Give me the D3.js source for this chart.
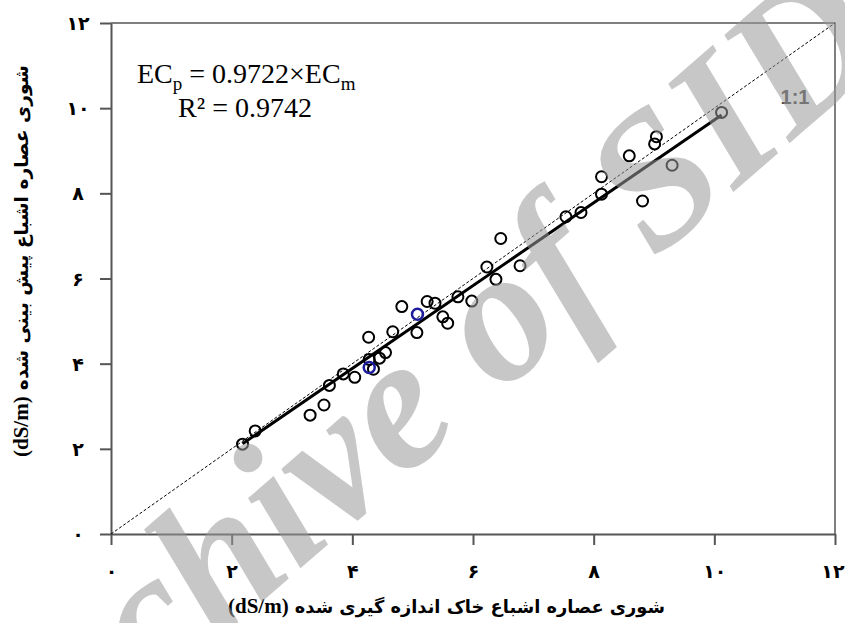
<!DOCTYPE html>
<html>
<head>
<meta charset="utf-8">
<script src="https://cdn.jsdelivr.net/npm/d3@7"></script>
<style>
  html, body { margin: 0; padding: 0; background: #fff; }
  svg { display: block; }
</style>
</head>
<body>
<svg id="chart" width="845" height="623"></svg>
<script>
// Measured vs predicted saturation-extract salinity (dS/m)
const measured  = [2.18, 2.39, 3.30, 3.53, 3.62, 3.85, 4.04, 4.27, 4.28, 4.35, 4.45, 4.55, 4.67, 4.82, 5.07, 5.24, 5.37, 5.50, 5.58, 5.75, 5.98, 6.23, 6.38, 6.46, 6.78, 7.54, 7.79, 8.13, 8.13, 8.59, 8.81, 9.01, 9.04, 9.30, 10.12];
const predicted = [2.11, 2.42, 2.79, 3.03, 3.49, 3.76, 3.68, 4.62, 4.10, 3.87, 4.13, 4.26, 4.75, 5.34, 4.73, 5.46, 5.42, 5.10, 4.95, 5.57, 5.47, 6.27, 5.98, 6.94, 6.30, 7.45, 7.55, 8.39, 7.98, 8.88, 7.82, 9.16, 9.33, 8.66, 9.90];
// highlighted samples
const measuredHi  = [4.28, 5.08];
const predictedHi = [3.91, 5.16];

const slope = 0.9722;
const xTicks = [0, 2, 4, 6, 8, 10, 12];
const yTicks = [0, 2, 4, 6, 8, 10, 12];
const xTitle = "شوری عصاره اشباع خاک اندازه گیری شده";
const yTitle = "شوری عصاره اشباع پیش بینی شده";
const unit = "(dS/m)";

const faDigits = "۰۱۲۳۴۵۶۷۸۹";
const toFa = v => String(v).replace(/\d/g, c => faDigits[+c]);

const svg = d3.select("#chart");
const m = { left: 111, top: 23, right: 10, bottom: 89 };
const W = 845 - m.left - m.right, H = 623 - m.top - m.bottom;

const x = d3.scaleLinear().domain([0, 12]).range([0, W]);
const y = d3.scaleLinear().domain([0, 12]).range([H, 0]);

const serif = "'Liberation Serif', 'Times New Roman', serif";
const g = svg.append("g").attr("transform", `translate(${m.left},${m.top})`);

// frame (top and right)
g.append("path")
  .attr("d", `M0,0H${W}V${H}`)
  .attr("fill", "none").attr("stroke", "#555").attr("stroke-width", 1.5);

// axes
const xAxis = g.append("g").attr("transform", `translate(0,${H})`)
  .call(d3.axisBottom(x).tickValues(xTicks).tickFormat(toFa).tickSize(11).tickSizeOuter(0).tickPadding(20));
const yAxis = g.append("g")
  .call(d3.axisLeft(y).tickValues(yTicks).tickFormat(toFa).tickSize(11).tickSizeOuter(0).tickPadding(22));

[xAxis, yAxis].forEach(a => {
  a.select(".domain").attr("stroke", "#555").attr("stroke-width", 2);
  a.selectAll(".tick line").attr("stroke", "#555").attr("stroke-width", 2);
  a.selectAll(".tick text")
    .attr("font-family", "'DejaVu Sans', sans-serif")
    .attr("font-weight", "bold")
    .attr("font-size", 19)
    .attr("fill", "#000");
});
yAxis.selectAll(".tick text").attr("text-anchor", "middle").attr("x", -33).attr("dy", "0.35em");
// last x label kept inside the page edge
xAxis.selectAll(".tick text").filter(d => d === d3.max(xTicks))
  .attr("text-anchor", "end").attr("x", 845 - m.left - W - 1);

// 1:1 line
g.append("line")
  .attr("x1", x(0)).attr("y1", y(0)).attr("x2", x(12)).attr("y2", y(12))
  .attr("stroke", "#000").attr("stroke-width", 1).attr("stroke-dasharray", "3,2");

// fitted line through origin over the measured range
const xmin = d3.min(measured), xmax = d3.max(measured);
g.append("line")
  .attr("x1", x(xmin)).attr("y1", y(slope * xmin))
  .attr("x2", x(xmax)).attr("y2", y(slope * xmax))
  .attr("stroke", "#000").attr("stroke-width", 3);

// points
g.selectAll("circle.pt").data(d3.zip(measured, predicted)).join("circle")
  .attr("class", "pt")
  .attr("cx", d => x(d[0])).attr("cy", d => y(d[1])).attr("r", 5.5)
  .attr("fill", "none").attr("stroke", "#000").attr("stroke-width", 2);
g.selectAll("circle.hi").data(d3.zip(measuredHi, predictedHi)).join("circle")
  .attr("class", "hi")
  .attr("cx", d => x(d[0])).attr("cy", d => y(d[1])).attr("r", 5.5)
  .attr("fill", "none").attr("stroke", "#1c1c9c").attr("stroke-width", 2.5);

// equation
const eq = g.append("text")
  .attr("x", 137 - m.left).attr("y", 83 - m.top)
  .attr("font-family", serif)
  .attr("font-size", 28).attr("fill", "#000");
eq.append("tspan").text("EC");
eq.append("tspan").text("p").attr("font-size", 19).attr("dy", 7);
eq.append("tspan").text(" = 0.9722×EC").attr("dy", -7);
eq.append("tspan").text("m").attr("font-size", 19).attr("dy", 7);

g.append("text")
  .attr("x", 245 - m.left).attr("y", 117 - m.top)
  .attr("text-anchor", "middle")
  .attr("font-family", serif)
  .attr("font-size", 28).attr("fill", "#000")
  .text("R² = 0.9742");

// axis titles: Persian text followed (to its left) by the unit in serif
function axisTitle(parent, text, left, right) {
  const gap = 6;
  const u = parent.append("text").attr("y", 0).attr("text-anchor", "start")
    .attr("font-family", serif).attr("font-weight", "bold")
    .attr("font-size", 21).attr("fill", "#000").text(unit);
  const p = parent.append("text").attr("y", 0).attr("text-anchor", "end")
    .attr("font-family", "'DejaVu Sans', sans-serif").attr("font-weight", "bold")
    .attr("font-size", 17).attr("fill", "#000").text(text);
  const uw = u.node().getComputedTextLength();
  const target = right - left - uw - gap;
  const pw = p.node().getComputedTextLength();
  p.attr("font-size", 17 * target / pw);
  u.attr("x", left);
  p.attr("x", right);
}

axisTitle(svg.append("g").attr("transform", "translate(0,613)"), xTitle, 228, 665);
axisTitle(svg.append("g").attr("transform", "translate(28,0) rotate(-90)"), yTitle, -457, -65);

// archive watermark
svg.append("text")
  .attr("transform", "translate(448,440) rotate(-41)")
  .attr("text-anchor", "middle")
  .attr("font-family", serif)
  .attr("font-style", "italic").attr("font-weight", "bold")
  .attr("font-size", 190)
  .attr("fill", "#999").attr("fill-opacity", 0.55)
  .text("Archive of SID");

// 1:1 label
g.append("text")
  .attr("x", 795 - m.left).attr("y", 104 - m.top)
  .attr("text-anchor", "middle")
  .attr("font-family", "'Liberation Sans', Arial, sans-serif")
  .attr("font-weight", "bold").attr("font-size", 20).attr("fill", "#4a4a4a")
  .text("1:1");
</script>
</body>
</html>
